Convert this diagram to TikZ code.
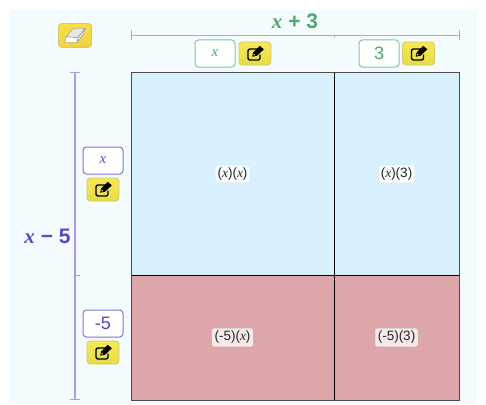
\documentclass[tikz,border=0pt]{standalone}
\usepackage{fontspec}
\setmainfont{Liberation Sans}
\newfontfamily\serifx{Liberation Serif}
\definecolor{bgc}{HTML}{F3FBFF}
\definecolor{grn}{HTML}{4FA86A}
\definecolor{grnl}{HTML}{85C79A}
\definecolor{pur}{HTML}{5A45C4}
\definecolor{purl}{HTML}{A99CE6}
\definecolor{purb}{HTML}{8573DA}
\definecolor{blu}{HTML}{D9F1FF}
\definecolor{red1}{HTML}{DCA6AB}
\definecolor{yel}{HTML}{F5E95A}
\definecolor{yelb}{HTML}{D6CB60}
\definecolor{yeld}{HTML}{E8DB48}
\definecolor{ora}{HTML}{FBDD45}
\newcommand{\vx}{{\serifx\itshape x}}
\tikzset{
  inbox/.style={draw,fill=white,rounded corners=3.5pt,line width=1pt,minimum width=40pt,minimum height=27pt,inner sep=0pt,font=\fontsize{15}{15}\selectfont},
  hinp/.style={inbox,draw=grnl,text=grn},
  vinp/.style={inbox,draw=purb,text=pur},
  editbtn/.style={draw=yelb,top color=yel,bottom color=yeld,rounded corners=3.5pt,line width=.9pt,minimum width=32pt,minimum height=23pt,inner sep=0pt},
  prod/.style={rounded corners=2pt,draw=black!12,line width=.5pt,inner xsep=2.5pt,inner ysep=2.5pt,font=\fontsize{13.5}{14}\selectfont,text=black!85},
  hrule/.style={draw=grnl,line width=.9pt},
  vrule/.style={draw=purl,line width=1.2pt},
  pics/pencil/.style={code={
    \draw[black,line width=1.4pt,rounded corners=2pt] (4,-4.5) -- (-7,-4.5) -- (-7,6.5) -- (5,6.5) -- (5,1);
    \fill[black] (-2.8,3.2) -- (-1.8,-1.2) -- (4.8,-7.6) -- (8.8,-4.2) -- (2,2.2) -- cycle;
    \fill[yel] (-1.6,2) -- (-1.2,.1) -- (.1,1.3) -- cycle;
  }}
}
\begin{document}
\begin{tikzpicture}[x=1pt,y=-1pt]
\useasboundingbox (0,0) rectangle (486,404);
\fill[bgc] (9,10) rectangle (477,404);
% grid
\fill[blu] (131,72) rectangle (459,275);
\fill[red1] (131,275) rectangle (459,400);
\draw[black,line width=.9pt] (334.5,72) -- (334.5,400);
\draw[black,line width=.7pt] (131,275) -- (459,275);
\draw[black!70,line width=.9pt] (131,72) rectangle (459,400);
% top ruler
\coordinate (ha) at (131,35); \coordinate (hm) at (334.5,35); \coordinate (hb) at (459,35);
\draw[hrule] (ha) -- (hb);
\draw[hrule] ([yshift=-5pt]ha) -- ([yshift=5pt]ha);
\draw[hrule] ([yshift=-5pt]hb) -- ([yshift=5pt]hb);
\draw[hrule,line width=.8pt] (hm) -- ([yshift=-3.5pt]hm);
\node[text=grn,font=\fontsize{21}{22}\bfseries\selectfont,inner sep=0pt] (hlabel) at (295,21) {{\serifx\itshape\bfseries x} + 3};
% left ruler
\coordinate (va) at (75,72.5); \coordinate (vm) at (75,275); \coordinate (vb) at (75,399.5);
\draw[vrule] (va) -- (vb);
\draw[vrule] ([xshift=-5pt]va) -- ([xshift=5pt]va);
\draw[vrule] ([xshift=-5pt]vb) -- ([xshift=5pt]vb);
\draw[vrule,line width=.9pt] (vm) -- ([xshift=5pt]vm);
\node[text=pur,font=\fontsize{21}{22}\bfseries\selectfont,inner sep=0pt] (vlabel) at (47.5,236.5) {{\serifx\itshape\bfseries x} − 5};
% inputs
\node[hinp] (ix) at (215,53.5) {\vx};
\node[hinp,font=\fontsize{18}{18}\selectfont] (i3) at (379,53.5) {3};
\node[vinp] (jx) at (103,160.5) {\vx};
\node[vinp,font=\fontsize{18}{18}\selectfont] (j5) at (103,323.5) {-5};
% edit buttons
\node[editbtn] (e1) at (255,53.5) {}; \pic at (e1) {pencil};
\node[editbtn] (e2) at (418.5,53.5) {}; \pic at (e2) {pencil};
\node[editbtn] (e3) at (103,189.5) {}; \pic at (e3) {pencil};
\node[editbtn] (e4) at (103,352.5) {}; \pic at (e4) {pencil};
% eraser
\node[draw=yelb,top color=ora,bottom color=ora!95!black,rounded corners=3.5pt,line width=.9pt,minimum width=33pt,minimum height=24pt,inner sep=0pt] (eraser) at (75,35.5) {};
\begin{scope}[shift={(eraser.center)}]
\draw[black!45,fill=black!10,line width=.4pt] (-9,1.5) -- (-2,-7) -- (10,-7) -- (3,2) -- cycle;
\draw[black!45,fill=black!10,line width=.4pt] (10,-7) -- (3,2) -- (2,7) -- (8,-.5) -- cycle;
\draw[black!45,fill=white,line width=.4pt] (-9,1.5) -- (3,2) -- (2,7) -- (-10,7) -- cycle;
\end{scope}
% products
\node[prod,fill=white!85!blu] (p1) at (232.5,174) {(\vx)(\vx)};
\node[prod,fill=white!85!blu] (p2) at (396.5,174) {(\vx)(3)};
\node[prod,fill=white!75!red1] (p3) at (232.5,337.5) {(-5)(\vx)};
\node[prod,fill=white!75!red1] (p4) at (396.5,337.5) {(-5)(3)};
\end{tikzpicture}
\end{document}
